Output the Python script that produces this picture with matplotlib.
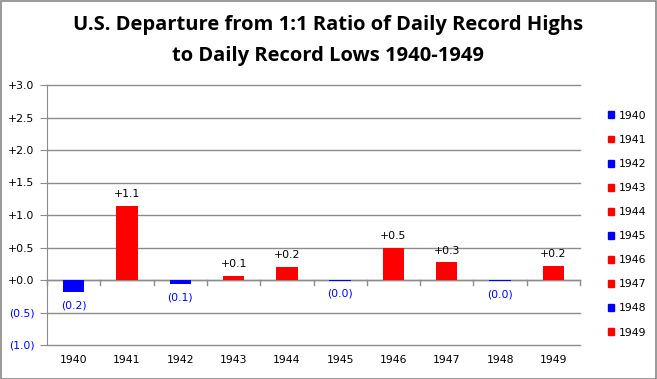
import matplotlib
matplotlib.use("Agg")
import matplotlib.pyplot as plt
from matplotlib.patches import Rectangle

years = ["1940", "1941", "1942", "1943", "1944", "1945", "1946", "1947", "1948", "1949"]
values = [-0.19, 1.14, -0.06, 0.06, 0.20, -0.01, 0.50, 0.27, -0.02, 0.21]
yticks = [-1.0, -0.5, 0.0, 0.5, 1.0, 1.5, 2.0, 2.5, 3.0]
title_lines = ["U.S. Departure from 1:1 Ratio of Daily Record Highs",
               "to Daily Record Lows 1940-1949"]

RED = "#ff0000"
BLUE = "#0000ff"
GRID = "#8c8c8c"
FONT = "DejaVu Sans"
FS = 7.8

def fmt(v):
    return f"({abs(v):.1f})" if v < 0 else f"+{v:.1f}"

fig = plt.figure(figsize=(6.57, 3.79), dpi=100)
fig.patches.append(Rectangle((0.001, 0.001), 0.997, 0.996, transform=fig.transFigure,
                             fill=False, edgecolor="#888888", linewidth=1.2))
ax = fig.add_axes([47/657, 1 - 345/379, (580 - 47)/657, (345 - 85)/379])

colors = [BLUE if v < 0 else RED for v in values]
x = list(range(len(years)))
ax.bar(x, values, width=0.4, color=colors, zorder=3)

ax.set_ylim(-1.0, 3.0)
ax.set_xlim(-0.5, len(years) - 0.5)
ax.set_yticks(yticks)
ax.set_yticklabels([fmt(t) for t in yticks], fontsize=FS, family=FONT)
for lab, t in zip(ax.get_yticklabels(), yticks):
    lab.set_color(BLUE if t < 0 else "black")
ax.tick_params(axis="y", length=5, color=GRID, pad=4)
for t in yticks:
    ax.axhline(t, color=GRID, linewidth=1.0, zorder=0, clip_on=False)

ax.set_xticks(x)
ax.set_xticklabels(years, fontsize=FS, family=FONT)
ax.tick_params(axis="x", length=0, pad=7)
for i in range(len(years) + 1):
    ax.plot([i - 0.5, i - 0.5], [0, -0.07], color=GRID, linewidth=1.0, zorder=2, clip_on=False)
ax.axhline(0, color=GRID, linewidth=1.0, zorder=2)

for s in ["top", "right", "bottom"]:
    ax.spines[s].set_visible(False)
ax.spines["left"].set_color(GRID)

for xi, v in zip(x, values):
    if v < 0:
        ax.annotate(fmt(v), (xi, v), xytext=(0, -6), textcoords="offset points",
                    ha="center", va="top", fontsize=FS, color=BLUE, family=FONT)
    else:
        ax.annotate(fmt(v), (xi, v), xytext=(0, 5), textcoords="offset points",
                    ha="center", va="bottom", fontsize=FS, color="black", family=FONT)

handles = [Rectangle((0, 0), 1, 1, color=c) for c in colors]
fig.legend(handles, years, loc="upper left", bbox_to_anchor=(598/657, 1 - 101/379),
           frameon=False, handlelength=0.6, handleheight=0.6,
           handletextpad=0.4, labelspacing=1.3, prop={"family": FONT, "size": FS})

fig.text(328/657, 1 - 25/379, title_lines[0], ha="center", va="center", fontsize=14.5,
         fontweight="bold", family="Open Sans")
fig.text(328/657, 1 - 56/379, title_lines[1], ha="center", va="center", fontsize=14.5,
         fontweight="bold", family="Open Sans")

fig.savefig("out.png", dpi=100)
